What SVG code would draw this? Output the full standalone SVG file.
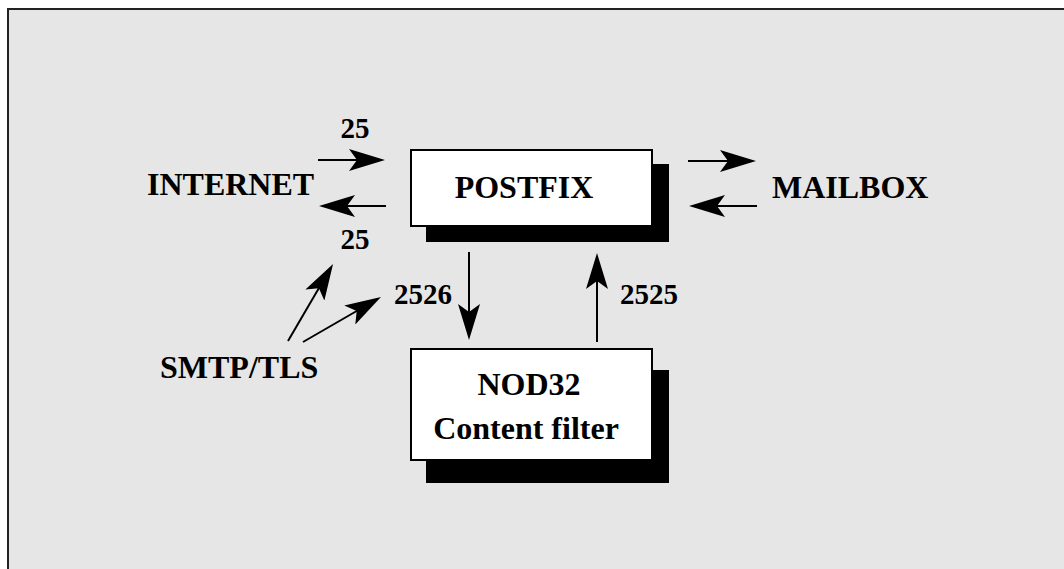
<svg xmlns="http://www.w3.org/2000/svg" width="1064" height="569" viewBox="0 0 1064 569">
  <style>
    text { font-family: 'Liberation Serif', Tinos, 'Times New Roman', Times, 'DejaVu Serif', serif; font-weight: 700; fill: #000; }
    .lbl { font-size: 32px; }
    .num { font-size: 29px; }
    .box { fill: #fff; stroke: #000; stroke-width: 2; }
    .shadow { fill: #000; }
    .conn { stroke: #000; stroke-width: 2; fill: none; marker-end: url(#arr); }
  </style>
  <defs>
    <marker id="arr" markerUnits="userSpaceOnUse" markerWidth="36" markerHeight="22" refX="26" refY="11" orient="auto">
      <path d="M0,0 L36,11 L0,22 L8,11 Z" fill="#000"/>
    </marker>
  </defs>
  <rect x="0" y="0" width="1064" height="569" fill="#fff"/>
  <rect id="frame" x="8" y="9" width="1100" height="600" fill="#e6e6e6" stroke="#222" stroke-width="2"/>

  <g id="postfix">
    <rect class="shadow" x="426" y="164" width="243" height="78"/>
    <rect class="box" x="411" y="150" width="241" height="76"/>
    <text class="lbl" x="524" y="198" text-anchor="middle">POSTFIX</text>
  </g>

  <g id="nod32">
    <rect class="shadow" x="426" y="370" width="243" height="113"/>
    <rect class="box" x="411" y="349" width="241" height="111"/>
    <text class="lbl" x="529" y="395" text-anchor="middle">NOD32</text>
    <text class="lbl" x="526" y="439" text-anchor="middle">Content filter</text>
  </g>

  <g id="internet">
    <text class="lbl" x="147" y="195">INTERNET</text>
  </g>

  <g id="mailbox">
    <text class="lbl" x="772" y="198">MAILBOX</text>
  </g>

  <g id="smtptls">
    <text class="lbl" x="160" y="378">SMTP/TLS</text>
  </g>

  <g id="connectors">
    <line class="conn" x1="318" y1="160" x2="375" y2="160"/>
    <line class="conn" x1="386" y1="206" x2="329" y2="206"/>
    <line class="conn" x1="688" y1="161" x2="746" y2="161"/>
    <line class="conn" x1="757" y1="206" x2="699" y2="206"/>
    <line class="conn" x1="469" y1="252" x2="469" y2="330"/>
    <line class="conn" x1="597" y1="342" x2="597" y2="263"/>
    <line class="conn" x1="288" y1="341" x2="328" y2="272.6"/>
    <line class="conn" x1="303" y1="342" x2="372.3" y2="302"/>
    <text class="num" x="355" y="138" text-anchor="middle">25</text>
    <text class="num" x="355" y="249" text-anchor="middle">25</text>
    <text class="num" x="394" y="304">2526</text>
    <text class="num" x="620" y="304">2525</text>
  </g>
</svg>
